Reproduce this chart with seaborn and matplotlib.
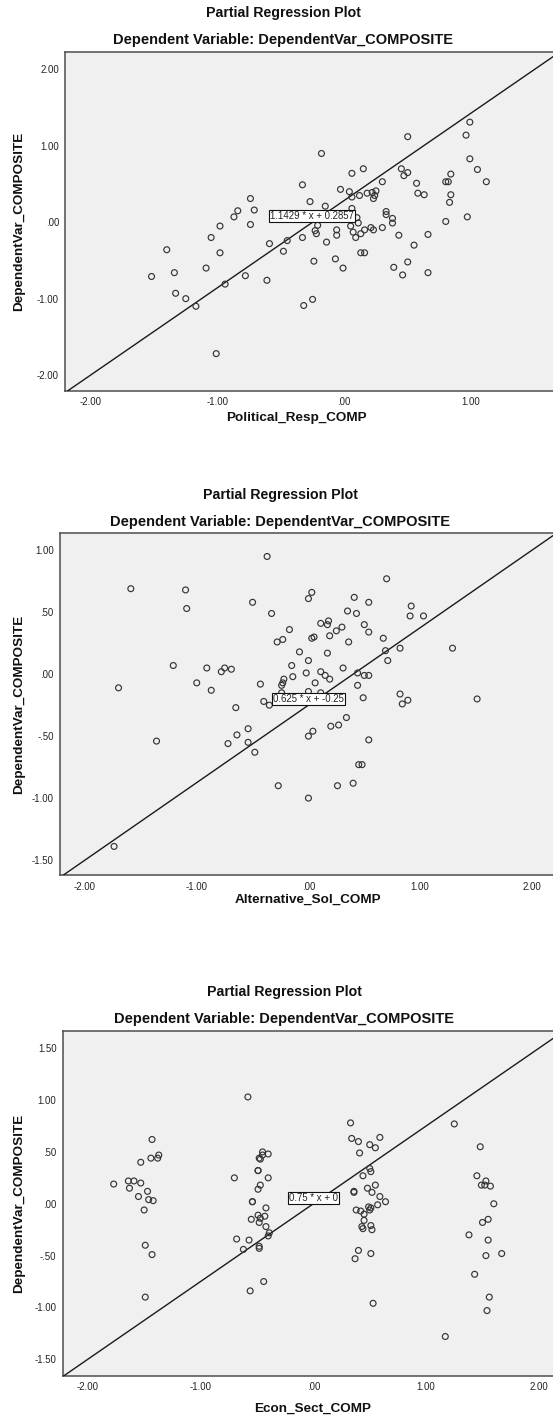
import matplotlib
matplotlib.use("Agg")
import matplotlib.pyplot as plt
import pandas as pd
import seaborn as sns

sns.set_theme(style="white")
plt.rcParams['font.family'] = ['Liberation Sans', 'DejaVu Sans']

# ---- data: partial regression residuals for each predictor ----
political_resp_x = [
    -1.52, -1.40, -1.34, -1.33, -1.25, -1.17, -1.09, -1.05, -1.01, -0.98,
    -0.98, -0.94, -0.87, -0.84, -0.78, -0.74, -0.74, -0.71, -0.61, -0.59,
    -0.48, -0.45, -0.33, -0.33, -0.32, -0.27, -0.25, -0.24, -0.23, -0.22,
    -0.21, -0.18, -0.15, -0.14, -0.07, -0.06, -0.06, -0.03, -0.01, 0.04,
    0.05, 0.06, 0.06, 0.06, 0.07, 0.09, 0.10, 0.11, 0.12, 0.13,
    0.13, 0.15, 0.16, 0.16, 0.18, 0.21, 0.22, 0.23, 0.23, 0.24,
    0.25, 0.30, 0.30, 0.33, 0.33, 0.38, 0.38, 0.39, 0.43, 0.45,
    0.46, 0.47, 0.50, 0.50, 0.50, 0.55, 0.57, 0.58, 0.63, 0.66,
    0.66, 0.80, 0.80, 0.82, 0.83, 0.84, 0.84, 0.96, 0.97, 0.99,
    0.99, 1.05, 1.12]
political_resp_y = [
    -0.71, -0.36, -0.66, -0.93, -1.00, -1.10, -0.60, -0.20, -1.72, -0.05,
    -0.40, -0.81, 0.07, 0.15, -0.70, 0.31, -0.03, 0.16, -0.76, -0.28,
    -0.38, -0.24, -0.20, 0.49, -1.09, 0.27, -1.01, -0.51, -0.11, -0.15,
    -0.04, 0.90, 0.21, -0.26, -0.48, -0.10, -0.17, 0.43, -0.60, 0.40,
    -0.05, 0.18, 0.33, 0.64, -0.13, -0.20, 0.06, -0.01, 0.35, -0.15,
    -0.40, 0.70, -0.40, -0.10, 0.38, -0.07, 0.39, -0.10, 0.31, 0.35,
    0.41, -0.07, 0.53, 0.14, 0.10, 0.05, -0.01, -0.59, -0.17, 0.70,
    -0.69, 0.61, 1.12, 0.65, -0.52, -0.30, 0.51, 0.38, 0.36, -0.16,
    -0.66, 0.01, 0.53, 0.53, 0.26, 0.63, 0.36, 1.14, 0.07, 1.31,
    0.83, 0.69, 0.53]

alternative_sol_x = [
    -1.74, -1.70, -1.59, -1.36, -1.21, -1.10, -1.09, -1.00, -0.91, -0.87,
    -0.78, -0.75, -0.72, -0.69, -0.65, -0.64, -0.54, -0.54, -0.50, -0.48,
    -0.43, -0.40, -0.37, -0.35, -0.33, -0.28, -0.27, -0.24, -0.23, -0.23,
    -0.22, -0.24, -0.17, -0.15, -0.14, -0.08, -0.02, 0.00, 0.00, 0.00,
    0.00, 0.00, 0.03, 0.03, 0.04, 0.05, 0.06, 0.11, 0.11, 0.11,
    0.15, 0.17, 0.17, 0.18, 0.19, 0.19, 0.20, 0.25, 0.26, 0.27,
    0.30, 0.31, 0.34, 0.35, 0.36, 0.40, 0.41, 0.43, 0.44, 0.44,
    0.45, 0.48, 0.49, 0.50, 0.50, 0.54, 0.54, 0.54, 0.54, 0.67,
    0.69, 0.70, 0.71, 0.82, 0.82, 0.84, 0.89, 0.91, 0.92, 1.03,
    1.29, 1.51]
alternative_sol_y = [
    -1.39, -0.11, 0.69, -0.54, 0.07, 0.68, 0.53, -0.07, 0.05, -0.13,
    0.02, 0.05, -0.56, 0.04, -0.27, -0.49, -0.44, -0.55, 0.58, -0.63,
    -0.08, -0.22, 0.95, -0.25, 0.49, 0.26, -0.90, -0.09, -0.07, 0.28,
    -0.04, -0.15, 0.36, 0.07, -0.02, 0.18, 0.01, 0.11, 0.61, -0.50,
    -1.00, -0.14, 0.66, 0.29, -0.46, 0.30, -0.07, 0.41, 0.02, -0.15,
    -0.01, 0.17, 0.40, 0.43, 0.31, -0.04, -0.42, 0.35, -0.90, -0.41,
    0.38, 0.05, -0.35, 0.51, 0.26, -0.88, 0.62, 0.49, -0.09, 0.01,
    -0.73, -0.73, -0.19, -0.01, 0.40, -0.01, 0.34, 0.58, -0.53, 0.29,
    0.19, 0.77, 0.11, 0.21, -0.16, -0.24, -0.21, 0.47, 0.55, 0.47,
    0.21, -0.20]

econ_sect_x = [
    -1.77, -1.64, -1.63, -1.59, -1.55, -1.53, -1.53, -1.50, -1.49, -1.49,
    -1.47, -1.46, -1.44, -1.43, -1.43, -1.42, -1.38, -1.37,
    -0.70, -0.68, -0.62, -0.58, -0.57, -0.56, -0.55, -0.54, -0.54, -0.49,
    -0.49, -0.49, -0.49, -0.48, -0.48, -0.48, -0.48, -0.47, -0.47, -0.47,
    -0.45, -0.44, -0.45, -0.43, -0.42, -0.42, -0.40, -0.40, -0.40, -0.39,
    0.33, 0.34, 0.36, 0.36, 0.37, 0.38, 0.40, 0.40, 0.41, 0.42,
    0.43, 0.44, 0.44, 0.45, 0.45, 0.48, 0.49, 0.50, 0.50, 0.50,
    0.51, 0.51, 0.51, 0.51, 0.52, 0.52, 0.53, 0.55, 0.55, 0.57,
    0.59, 0.59, 0.64,
    1.17, 1.25, 1.38, 1.43, 1.45, 1.48, 1.49, 1.50, 1.52, 1.53,
    1.53, 1.54, 1.55, 1.55, 1.56, 1.57, 1.60, 1.67]
econ_sect_y = [
    0.19, 0.22, 0.15, 0.22, 0.07, 0.40, 0.20, -0.06, -0.40, -0.90,
    0.12, 0.04, 0.44, 0.62, -0.49, 0.03, 0.44, 0.47,
    0.25, -0.34, -0.44, 1.03, -0.35, -0.84, -0.15, 0.02, 0.02, 0.14,
    -0.11, 0.32, 0.32, -0.18, -0.41, -0.43, 0.44, 0.43, 0.18, -0.14,
    0.50, -0.75, 0.47, -0.12, -0.04, -0.22, 0.25, 0.48, -0.31, -0.28,
    0.78, 0.63, 0.12, 0.11, -0.53, -0.06, 0.60, -0.45, 0.49, -0.07,
    -0.22, 0.27, -0.24, -0.10, -0.16, 0.15, -0.03, 0.57, 0.34, -0.06,
    -0.21, -0.48, 0.31, -0.04, -0.25, 0.11, -0.96, 0.54, 0.18, -0.01,
    0.64, 0.07, 0.02,
    -1.28, 0.77, -0.30, -0.68, 0.27, 0.55, 0.18, -0.18, 0.18, 0.22,
    -0.50, -1.03, -0.35, -0.15, -0.90, 0.17, 0.00, -0.48]

predictor_names = ["Political_Resp_COMP", "Alternative_Sol_COMP", "Econ_Sect_COMP"]
fit_slopes = [1.1429, 0.625, 0.75]
fit_intercepts = [0.2857, -0.25, 0.0]
fit_labels = ["1.1429 * x + 0.2857", "0.625 * x + -0.25", "0.75 * x + 0"]

x_ticks = [[-2, -1, 0, 1], [-2, -1, 0, 1, 2], [-2, -1, 0, 1, 2]]
x_ticklabels = [["-2.00", "-1.00", ".00", "1.00"],
                ["-2.00", "-1.00", ".00", "1.00", "2.00"],
                ["-2.00", "-1.00", ".00", "1.00", "2.00"]]
y_ticks = [[-2, -1, 0, 1, 2],
           [-1.5, -1.0, -0.5, 0.0, 0.5, 1.0],
           [-1.5, -1.0, -0.5, 0.0, 0.5, 1.0, 1.5]]
y_ticklabels = [["-2.00", "-1.00", ".00", "1.00", "2.00"],
                ["-1.50", "-1.00", "-.50", ".00", ".50", "1.00"],
                ["-1.50", "-1.00", "-.50", ".00", ".50", "1.00", "1.50"]]

xs = [political_resp_x, alternative_sol_x, econ_sect_x]
ys = [political_resp_y, alternative_sol_y, econ_sect_y]

# ---- layout (pixel geometry of each panel) ----
W, H = 553, 1417
layout = [
    dict(left=65.3, top=51.7, bottom=391.0, xlim=(-2.20, 1.701), ylim=(-2.209, 2.232),
         title_y=13.5, sub_y=40.0, xlab=(296, 418), title_x=283, box=(-0.256, 0.079)),
    dict(left=60.0, top=533.3, bottom=875.3, xlim=(-2.224, 2.252), ylim=(-1.623, 1.137),
         title_y=495.0, sub_y=521.7, xlab=(308, 900), title_x=280, box=(0.0, -0.198)),
    dict(left=62.7, top=1030.7, bottom=1375.7, xlim=(-2.222, 2.187), ylim=(-1.658, 1.669),
         title_y=991.7, sub_y=1019.3, xlab=(313, 1409), title_x=284, box=(0.0, 0.058)),
]

fig = plt.figure(figsize=(W / 100, H / 100), dpi=100)
fig.patch.set_facecolor("white")

for i, g in enumerate(layout):
    right = 560.0
    ax = fig.add_axes([g["left"] / W, 1 - g["bottom"] / H,
                       (right - g["left"]) / W, (g["bottom"] - g["top"]) / H])
    ax.set_facecolor("#f0f0f0")

    df = pd.DataFrame({"x": xs[i], "y": ys[i]})
    sns.scatterplot(data=df, x="x", y="y", ax=ax, marker="o", s=18,
                    facecolor="none", edgecolor="#353535", linewidth=0.85, zorder=4)

    ax.axline((0, fit_intercepts[i]), slope=fit_slopes[i], color="#1a1a1a",
              lw=1.0, zorder=3)

    bx, by = g["box"]
    ax.text(bx, by, fit_labels[i], ha="center", va="center", fontsize=6.9,
            color="#222222", zorder=6,
            bbox=dict(boxstyle="square,pad=0.12", fc="white", ec="#111111", lw=0.8))

    ax.set_xlim(*g["xlim"])
    ax.set_ylim(*g["ylim"])
    ax.set_xticks(x_ticks[i])
    ax.set_xticklabels(x_ticklabels[i])
    ax.set_yticks(y_ticks[i])
    ax.set_yticklabels(y_ticklabels[i])
    ax.set_xlabel("")
    ax.set_ylabel("")
    ax.tick_params(axis="both", direction="out", length=3.0, width=1.0,
                   color="#333333", labelsize=6.9, labelcolor="#222222", pad=1.5)
    for sp in ax.spines.values():
        sp.set_visible(True)
        sp.set_color("#4d4d4d")
        sp.set_linewidth(1.1)

    fig.text(g["title_x"] / W, 1 - g["title_y"] / H, "Partial Regression Plot",
             ha="center", va="center", fontsize=10.2, fontweight="bold", color="#111111")
    fig.text(g["title_x"] / W, 1 - g["sub_y"] / H,
             "Dependent Variable: DependentVar_COMPOSITE",
             ha="center", va="center", fontsize=10.5, fontweight="bold", color="#111111")
    fig.text(g["xlab"][0] / W, 1 - g["xlab"][1] / H, predictor_names[i],
             ha="center", va="center", fontsize=9.7, fontweight="bold", color="#111111")
    fig.text(19.5 / W, 1 - (g["top"] + g["bottom"]) / 2 / H, "DependentVar_COMPOSITE",
             ha="center", va="center", rotation=90, fontsize=9.7, fontweight="bold",
             color="#111111")

fig.savefig("out.png", dpi=100, facecolor="white")
